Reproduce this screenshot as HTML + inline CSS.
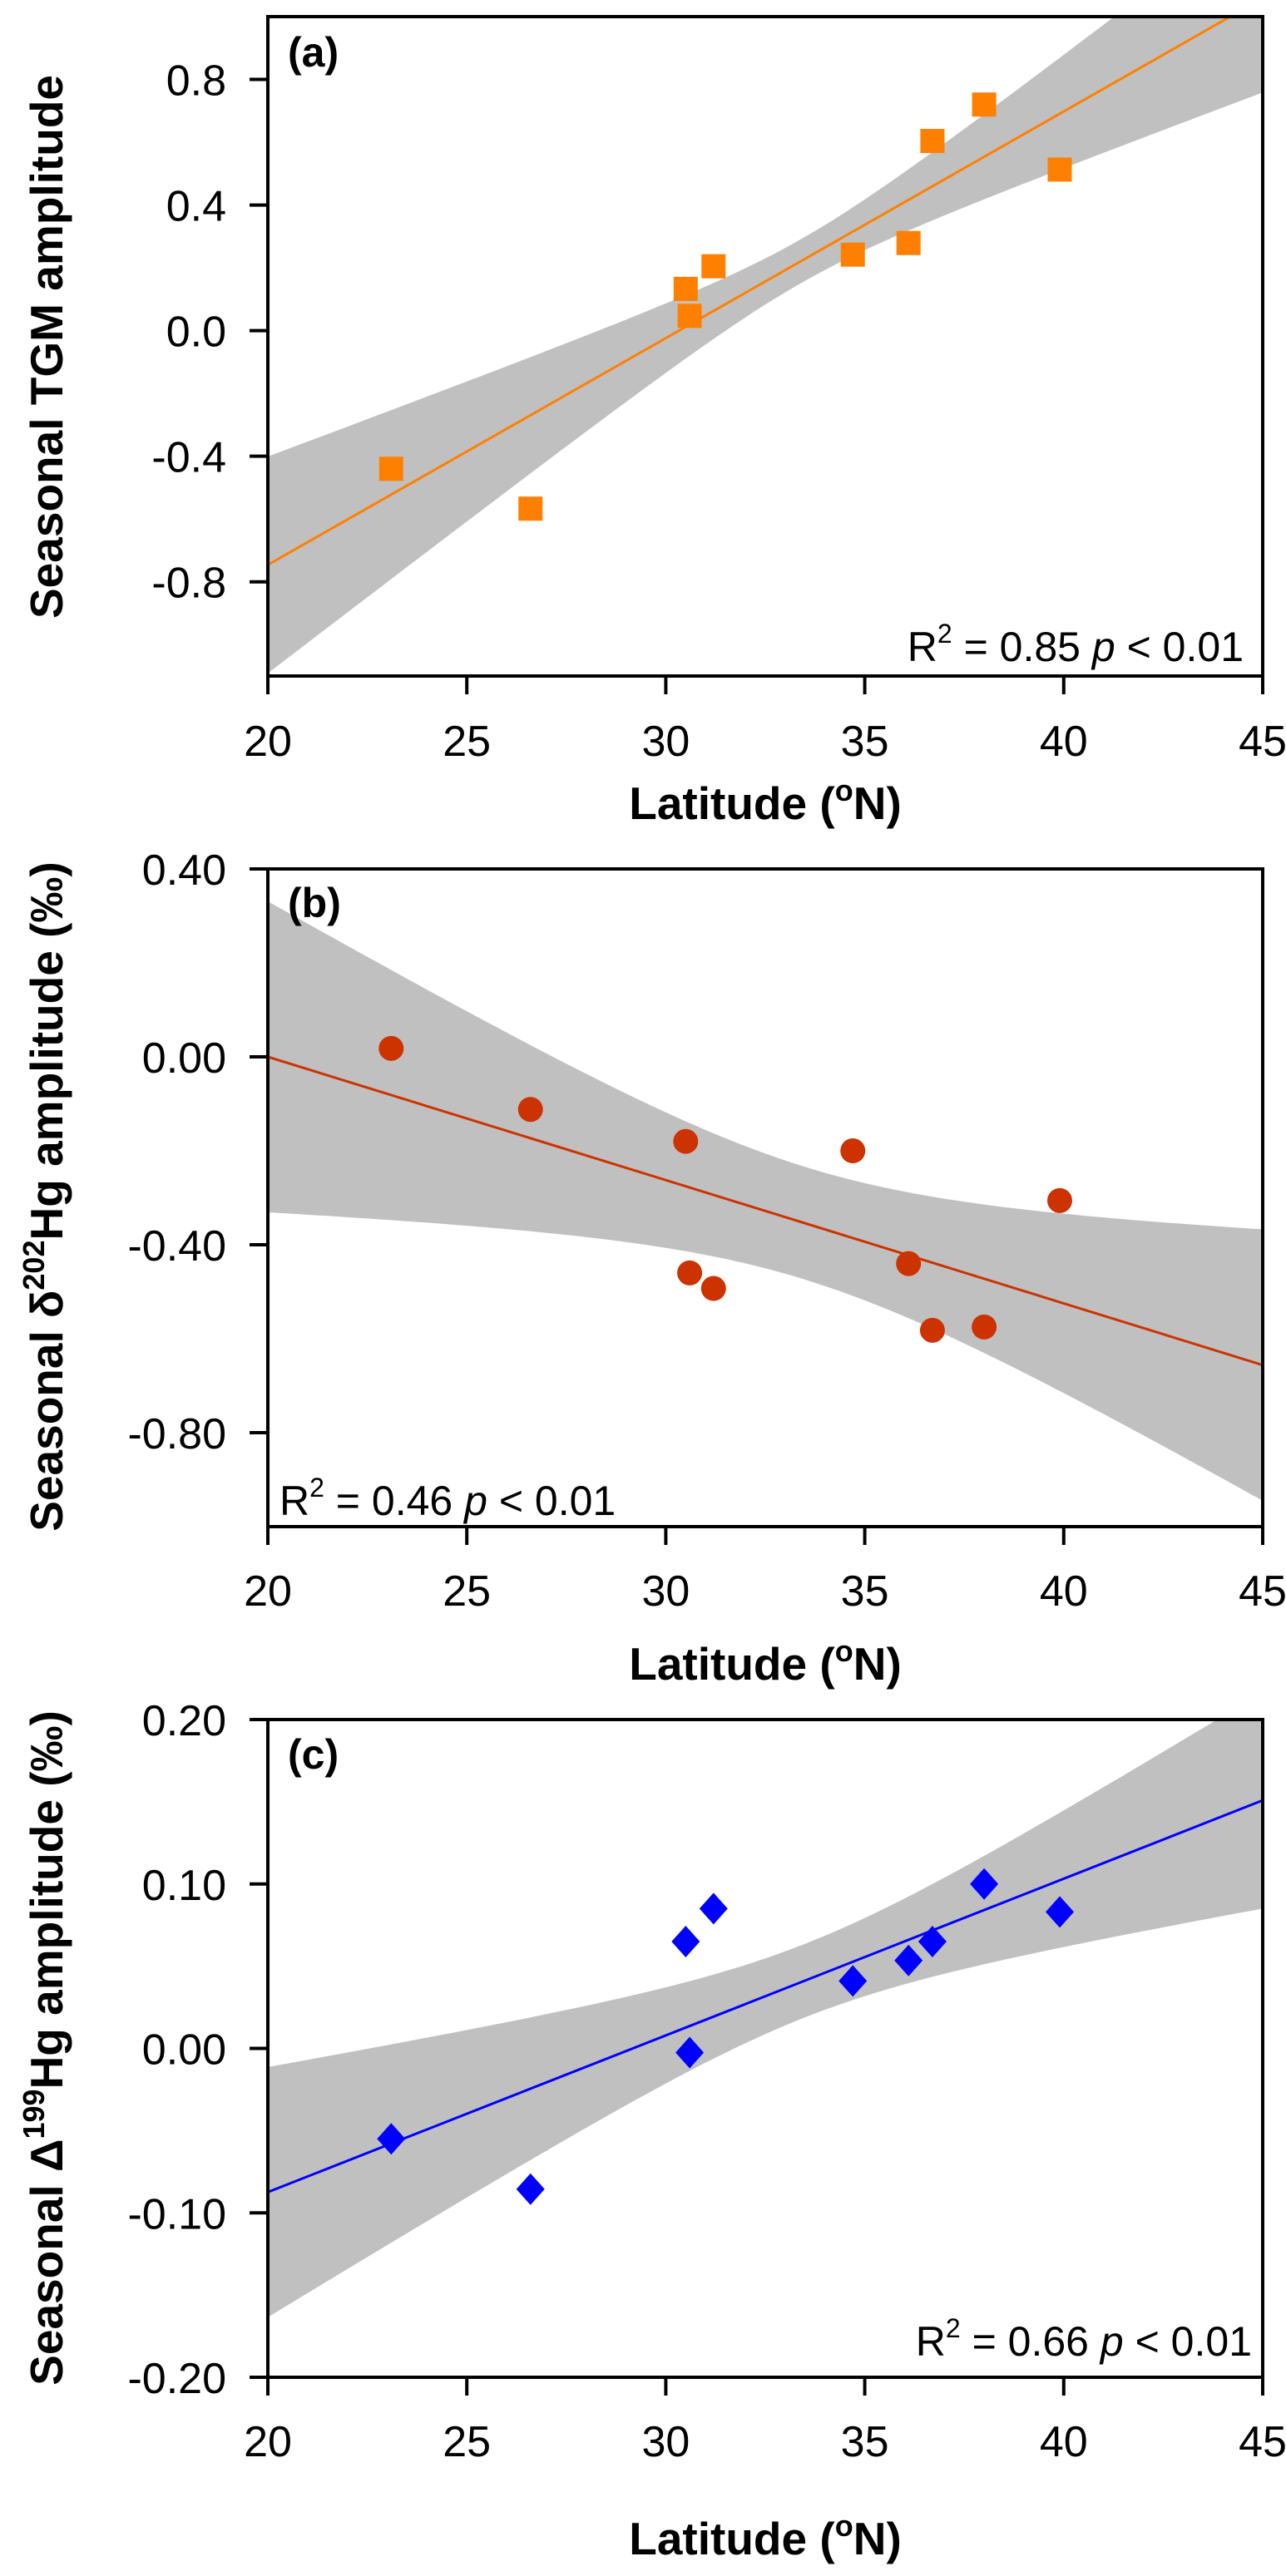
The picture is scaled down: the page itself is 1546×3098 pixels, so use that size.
<!DOCTYPE html>
<html><head><meta charset="utf-8"><style>
html,body{margin:0;padding:0;background:#fff;}
svg{display:block;font-family:"Liberation Sans",Arial,sans-serif;}
</style></head><body>
<svg id="fig" width="1546" height="3098" viewBox="0 0 1546 3098" xmlns="http://www.w3.org/2000/svg">
<defs>
<clipPath id="clipA"><rect x="322" y="20" width="1196" height="793"/></clipPath>
<clipPath id="clipB"><rect x="324" y="1045" width="1194" height="791"/></clipPath>
<clipPath id="clipC"><rect x="322" y="2068" width="1196" height="791"/></clipPath>
</defs>
</svg>
<script>
const lat = [23.1, 26.6, 30.5, 30.6, 31.2, 34.7, 36.1, 36.7, 38.0, 39.9];
const tgmAmp = [-0.44, -0.567, 0.133, 0.047, 0.205, 0.242, 0.279, 0.604, 0.72, 0.513];
const d202Amp = [0.018, -0.112, -0.18, -0.46, -0.493, -0.2, -0.44, -0.582, -0.575, -0.306];
const D199Amp = [-0.055, -0.0856, 0.065, -0.0025, 0.085, 0.041, 0.0535, 0.065, 0.10, 0.083];
const xTicks = [20, 25, 30, 35, 40, 45];
const xTickLabels = ["20", "25", "30", "35", "40", "45"];
const yTicksA = [-0.8, -0.4, 0.0, 0.4, 0.8];
const yTickLabelsA = ["-0.8", "-0.4", "0.0", "0.4", "0.8"];
const yTicksB = [0.4, 0.0, -0.4, -0.8];
const yTickLabelsB = ["0.40", "0.00", "-0.40", "-0.80"];
const yTicksC = [0.2, 0.1, 0.0, -0.1, -0.2];
const yTickLabelsC = ["0.20", "0.10", "0.00", "-0.10", "-0.20"];
const fitA = [0.0722, -2.19];   // slope, intercept
const fitB = [-0.02624, 0.5248];
const fitC = [0.00953, -0.278];
const bandA = [33.4, 0.0049, 0.000636]; // centre, a, b
const bandB = [33.5, 0.0144, 0.000522];
const bandC = [33.5, 0.0005, 0.000029];

const NS = "http://www.w3.org/2000/svg";
const svg = document.getElementById("fig");
function mk(tag, attrs, parent) {
  const e = document.createElementNS(NS, tag);
  for (const k in attrs) e.setAttribute(k, attrs[k]);
  (parent || svg).appendChild(e);
  return e;
}

function panel(p) {
  const g = mk("g", {});
  
  
  const L = 322, R = 1518, T = p.top, B = p.bottom;
  const X = v => L + (v - 20) / 25 * (R - L);
  const Y = v => T + (p.ymax - v) / (p.ymax - p.ymin) * (B - T);
  let up = [], lo = [];
  for (let i = 0; i <= 100; i++) {
    const x = 20 + i * 0.25;
    const yh = p.fit[0] * x + p.fit[1];
    const hw = Math.sqrt(p.band[1] + p.band[2] * (x - p.band[0]) ** 2);
    up.push(X(x).toFixed(1) + "," + Y(yh + hw).toFixed(1));
    lo.unshift(X(x).toFixed(1) + "," + Y(yh - hw).toFixed(1));
  }
  const band = mk("polygon", {points: up.concat(lo).join(" "), fill: "#c0c0c0", "clip-path": "url(#" + p.clip + ")"}, g);
  
  
  const fl = mk("line", {x1: X(20), y1: Y(p.fit[0] * 20 + p.fit[1]), x2: X(45), y2: Y(p.fit[0] * 45 + p.fit[1]), stroke: p.color, "stroke-width": 3, "clip-path": "url(#" + p.clip + ")"}, g);
  
  
  p.vals.forEach((v, i) => {
    const cx = X(lat[i]), cy = Y(v);
    let m;
    if (p.marker === "square") m = mk("rect", {x: cx - 14.5, y: cy - 14.5, width: 29, height: 29, fill: p.color}, g);
    else if (p.marker === "circle") m = mk("ellipse", {cx: cx, cy: cy, rx: 15, ry: 15, fill: p.color}, g);
    else m = mk("polygon", {points: `${cx},${cy-19} ${cx+17},${cy} ${cx},${cy+19} ${cx-17},${cy}`, fill: p.color}, g);
    
    
  });
  const fr = mk("rect", {x: L, y: T, width: R - L, height: B - T, fill: "none", stroke: "#000", "stroke-width": 4}, g);
  
  
  xTicks.forEach((t, i) => {
    const tk = mk("line", {x1: X(t), y1: B, x2: X(t), y2: B + 22, stroke: "#000", "stroke-width": 4}, g);
    
    
    const tl = mk("text", {x: X(t), y: p.xLabY, "font-size": 52, "text-anchor": "middle"}, g);
    tl.textContent = xTickLabels[i];
    
    
  });
  p.yTicks.forEach((t, i) => {
    const tk = mk("line", {x1: L - 22, y1: Y(t), x2: L, y2: Y(t), stroke: "#000", "stroke-width": 4}, g);
    
    
    const tl = mk("text", {x: 272, y: Y(t) + 19, "font-size": 52, "text-anchor": "end"}, g);
    tl.textContent = p.yLabels[i];
    
    
  });
  const xt = mk("text", {x: 920, y: p.xTitleY, "font-size": 55, "font-weight": "bold", "text-anchor": "middle"}, g);
  xt.innerHTML = 'Latitude (<tspan font-size="36" dy="-22">o</tspan><tspan dy="22">N)</tspan>';
  
  
  const yt = mk("text", {x: 0, y: 0, "font-size": 55, "font-weight": "bold", "text-anchor": "middle", transform: `translate(75,${p.yTitleC}) rotate(-90)`}, g);
  yt.innerHTML = p.yTitle;
  
  
  const pl = mk("text", {x: 346, y: p.labY, "font-size": 50, "font-weight": "bold"}, g);
  pl.textContent = p.label;
  
  
  const st = mk("text", {x: p.statX, y: p.statY, "font-size": 50, "text-anchor": p.statAnchor}, g);
  st.innerHTML = 'R<tspan font-size="32" dy="-22">2</tspan><tspan dy="22"> = ' + p.r2 + '  </tspan><tspan font-style="italic">p</tspan> &lt; 0.01';
  
  
}

panel({id: "a", top: 20, bottom: 813, ymin: -1.1, ymax: 1.0, vals: tgmAmp, fit: fitA, band: bandA, color: "#ff8000", marker: "square", clip: "clipA",
  yTicks: yTicksA, yLabels: yTickLabelsA, xLabY: 909, xTitleY: 985, yTitleC: 417, labY: 80, label: "(a)",
  yTitle: "Seasonal TGM amplitude", statX: 1495, statY: 795, statAnchor: "end", r2: "0.85"});
panel({id: "b", top: 1045, bottom: 1836, ymin: -1.0, ymax: 0.4, vals: d202Amp, fit: fitB, band: bandB, color: "#cc3300", marker: "circle", clip: "clipB",
  yTicks: yTicksB, yLabels: yTickLabelsB, xLabY: 1931, xTitleY: 2020, yTitleC: 1439, labY: 1103, label: "(b)",
  yTitle: 'Seasonal δ<tspan font-size="36" dy="-22">202</tspan><tspan dy="22">Hg amplitude (‰)</tspan>', statX: 336, statY: 1822, statAnchor: "start", r2: "0.46"});
panel({id: "c", top: 2068, bottom: 2859, ymin: -0.2, ymax: 0.2, vals: D199Amp, fit: fitC, band: bandC, color: "#0000ff", marker: "diamond", clip: "clipC",
  yTicks: yTicksC, yLabels: yTickLabelsC, xLabY: 2954, xTitleY: 3072, yTitleC: 2463, labY: 2127, label: "(c)",
  yTitle: 'Seasonal Δ<tspan font-size="36" dy="-22">199</tspan><tspan dy="22">Hg amplitude (‰)</tspan>', statX: 1505, statY: 2833, statAnchor: "end", r2: "0.66"});
</script>
</body></html>
